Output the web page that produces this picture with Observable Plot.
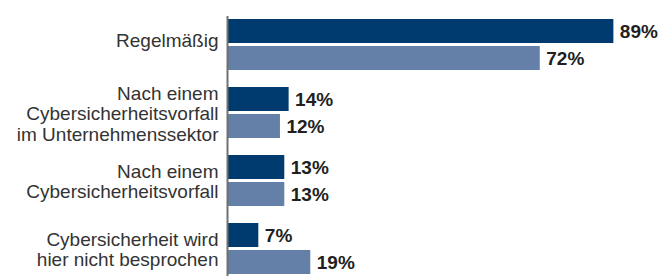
<!DOCTYPE html>
<html><head><meta charset="utf-8">
<script src="https://cdn.jsdelivr.net/npm/d3@7"></script>
<script src="https://cdn.jsdelivr.net/npm/@observablehq/plot@0.6"></script>
<style>body{margin:0;background:#fff}</style>
</head><body><div id="chart"></div>
<script>
const categories = [
  "Regelmäßig",
  "Nach einem\nCybersicherheitsvorfall\nim Unternehmenssektor",
  "Nach einem\nCybersicherheitsvorfall",
  "Cybersicherheit wird\nhier nicht besprochen"
];
const seriesNames = ["Serie 1", "Serie 2"];
const values1 = [89, 14, 13, 7];
const values2 = [72, 12, 13, 19];

const data = categories.flatMap((c, i) => [
  {cat: c, series: seriesNames[0], value: values1[i]},
  {cat: c, series: seriesNames[1], value: values2[i]}
]);

const chart = Plot.plot({
  width: 663, height: 276,
  marginLeft: 228, marginRight: 2, marginTop: 18, marginBottom: 0,
  x: {domain: [0, 100], axis: null},
  y: {domain: seriesNames, axis: null, paddingInner: 0.107, paddingOuter: 0},
  fy: {domain: categories, axis: null, paddingInner: 0.232, paddingOuter: 0},
  color: {domain: seriesNames, range: ["#003b6f", "#6580a8"]},
  style: {fontFamily: "'Liberation Sans', Arial, sans-serif", background: "#fff"},
  marks: [
    Plot.barX(data, {x: "value", y: "series", fy: "cat", fill: "series"}),
    Plot.ruleX([0], {stroke: "#707070", strokeWidth: 2, dx: -1, insetTop: -3, insetBottom: -13}),
    Plot.text(data, {x: "value", y: "series", fy: "cat", text: d => d.value + "%", textAnchor: "start", dx: 6, fontWeight: "bold", fontSize: 19, fill: "#231f20"}),
    Plot.text([categories[0]], {fy: d => d, text: d => d, frameAnchor: "left", textAnchor: "end", dx: -10, dy: -5, fontSize: 19, fill: "#333"}),
    Plot.text(categories.slice(1), {fy: d => d, text: d => d, frameAnchor: "left", textAnchor: "end", dx: -10, fontSize: 19, lineHeight: 1.08, fill: "#333"})
  ]
});
document.getElementById("chart").appendChild(chart);
</script>
</body></html>
